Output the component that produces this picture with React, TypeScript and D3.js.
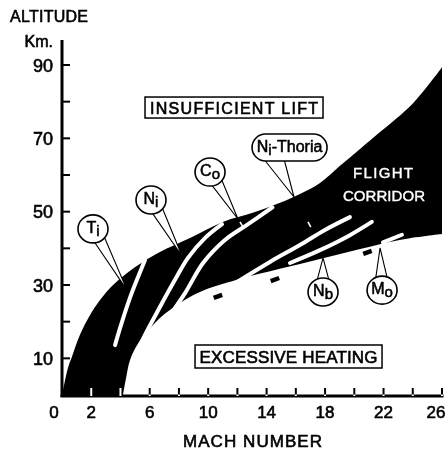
import * as d3 from 'd3';

const WIDTH = 448;
const HEIGHT = 451;
const FONT = "'Liberation Sans', Arial, Helvetica, sans-serif";

// axis ticks
const xTicks = [2, 4, 6, 8, 10, 12, 14, 16, 18, 20, 22, 24, 26];
const xTickLabels = [0, 2, 6, 10, 14, 18, 22, 26];
const yTicks = [10, 20, 30, 40, 50, 60, 70, 80, 90];
const yTickLabels = [10, 30, 50, 70, 90];

// corridor edges, [mach, altitude km]
const liftLimit: [number, number][] = [
  [0, 0], [0.14, 2.7], [0.41, 7.4], [0.68, 10.4], [1.23, 16.4], [1.92, 21.8],
  [2.6, 25.9], [3.49, 30], [4.45, 33.3], [5.54, 36.3], [6.7, 39], [8.76, 42.8],
  [11, 47.2], [13.2, 49.9], [14.92, 52.4], [16.28, 54.8], [17.65, 57.8],
  [19.02, 62.5], [20.39, 67.1], [21.76, 71.7], [24.02, 79.6], [26, 89.4],
];
const heatingLimit: [number, number][] = [
  [4.17, 0], [4.38, 4.6], [4.65, 9.5], [5.13, 13.6], [5.82, 17.2], [6.7, 21],
  [8.07, 25.1], [9.44, 28.1], [11.97, 31.4], [14.9, 34.4], [17.65, 37.1],
  [20.4, 39.8], [23.1, 42.3], [26, 43.9],
];

// material bands
const tiBand: [number, number][] = [[3.63, 13.6], [4.04, 19.1], [4.65, 26.5], [5.68, 36.8]];
const niBand: [number, number][] = [
  [4.79, 9.0], [5.68, 16.4], [6.7, 24.0], [7.73, 31.4], [8.62, 37.4], [9.78, 42.8], [10.95, 46.6],
];
const coBand: [number, number][] = [
  [7.25, 21], [8.42, 27.8], [9.65, 36], [11.15, 42.3], [12.66, 46.4], [14.4, 51.2],
];
const niThoriaBand: [number, number][] = [[11.84, 30.5], [14.23, 36.3], [16.28, 40.9], [17.99, 45], [19.7, 48.5]];
const nbBand: [number, number][] = [[15.6, 36], [17.65, 39.5], [19.7, 43.6], [21.2, 47.2]];
const moBand: [number, number][] = [[21.96, 41.6], [23.26, 43.7]];
const bands = [tiBand, niBand, coBand, niThoriaBand, nbBand, moBand];

const edgeDashes: [number, number][] = [[10.67, 27.3], [14.57, 31.9], [20.9, 39.3]];

// callouts
const calloutNames = ['T', 'N', 'C', 'N', 'N', 'M'];
const calloutSubs = ['i', 'i', 'o', 'i', 'b', 'o'];
const calloutRest = ['', '', '', '-Thoria', '', ''];
const calloutAt: [number, number][] = [[2.12, 45.3], [6.09, 53.2], [10.13, 60.8], [15.57, 67.5], [17.86, 28.1], [21.9, 28.6]];
const calloutTip: [number, number][] = [[4.45, 28.6], [8.21, 37.9], [12.04, 48.0], [15.87, 54.0], [17.86, 37.4], [21.76, 40.1]];
const calloutMark: ([number, number] | null)[] = [null, null, [12.18, 47.2], [16.83, 47.2], null, null];

const x = d3.scaleLinear().domain([0, 26]).range([62, 442]);
const y = d3.scaleLinear().domain([0, 90]).range([395, 65]);

const curve = d3
  .line<[number, number]>()
  .x((d) => x(d[0]))
  .y((d) => y(d[1]))
  .curve(d3.curveCatmullRom);

function corridorPath() {
  const top = curve(liftLimit) ?? '';
  const bottom = (curve([...heatingLimit].reverse()) ?? '').replace(/^M/, 'L');
  return `${top}${bottom}Z`;
}

function Callout({ i }: { i: number }) {
  const cx = x(calloutAt[i][0]);
  const cy = y(calloutAt[i][1]);
  const tx = x(calloutTip[i][0]);
  const ty = y(calloutTip[i][1]);
  const pill = calloutRest[i] !== '';
  const rx = pill ? 37.5 : 15;
  const ry = pill ? 13.5 : 14;
  let p1: [number, number];
  let p2: [number, number];
  if (pill) {
    p1 = [cx - 25, cy + ry - 1];
    p2 = [cx - 5, cy + ry];
  } else {
    const a = Math.atan2(ty - cy, tx - cx);
    p1 = [cx + rx * Math.cos(a - 0.38), cy + ry * Math.sin(a - 0.38)];
    p2 = [cx + rx * Math.cos(a + 0.38), cy + ry * Math.sin(a + 0.38)];
  }
  const mark = calloutMark[i];
  let markLine = null;
  if (mark) {
    const mx = x(mark[0]);
    const my = y(mark[1]);
    const dx = tx - (p1[0] + p2[0]) / 2;
    const dy = ty - (p1[1] + p2[1]) / 2;
    const len = Math.hypot(dx, dy);
    markLine = (
      <line x1={mx} y1={my} x2={mx + (dx / len) * 6} y2={my + (dy / len) * 6} stroke="#fff" strokeWidth={1.6} />
    );
  }
  return (
    <g>
      <path d={`M${p1[0]},${p1[1]}L${tx},${ty}L${p2[0]},${p2[1]}`} fill="#fff" stroke="#000" strokeWidth={1.1} />
      {pill ? (
        <rect x={cx - rx} y={cy - ry} width={rx * 2} height={ry * 2} rx={ry} fill="#fff" stroke="#000" strokeWidth={1.6} />
      ) : (
        <ellipse cx={cx} cy={cy} rx={rx} ry={ry} fill="#fff" stroke="#000" strokeWidth={1.6} />
      )}
      <text x={cx} y={cy + 4} textAnchor="middle" fontSize={16} fontFamily={FONT} stroke="#000" strokeWidth={0.55}>
        <tspan>{calloutNames[i]}</tspan>
        <tspan dy={3} fontSize={15}>{calloutSubs[i]}</tspan>
        {pill ? <tspan dy={-3}>{calloutRest[i]}</tspan> : null}
      </text>
      {markLine}
    </g>
  );
}

export default function App() {
  const heavy = { stroke: '#000', strokeWidth: 0.6 };
  const lift = [x(11.77), y(78.4)];
  const heat = [x(15.5), y(10.5)];
  const corridor = [x(22.03), y(57.5)];
  return (
    <svg width={WIDTH} height={HEIGHT} style={{ position: 'absolute', left: 0, top: 0 }} fontFamily={FONT}>
      <rect width={WIDTH} height={HEIGHT} fill="#fff" />

      <path d={corridorPath()} fill="#000" />

      {bands.map((b, i) => (
        <path key={i} d={curve(b) ?? ''} fill="none" stroke="#fff" strokeWidth={4} strokeLinecap="round" />
      ))}

      {edgeDashes.map((d, i) => (
        <rect
          key={i}
          x={-4.5}
          y={-2.2}
          width={9}
          height={4.4}
          fill="#000"
          transform={`translate(${x(d[0])},${y(d[1]) + 1.5}) rotate(-20)`}
        />
      ))}

      {/* axes */}
      <line x1={62} y1={40} x2={62} y2={397} stroke="#000" strokeWidth={3} />
      <line x1={60.5} y1={396} x2={443.5} y2={396} stroke="#000" strokeWidth={3} />
      {yTicks.map((t) => (
        <line key={t} x1={62} x2={70} y1={y(t)} y2={y(t)} stroke="#000" strokeWidth={2} />
      ))}
      {yTickLabels.map((t) => (
        <text key={t} x={53} y={y(t) + 6.5} textAnchor="end" fontSize={18} {...heavy}>
          {t}
        </text>
      ))}
      {xTicks.map((t) => (
        <line
          key={t}
          x1={x(t)}
          x2={x(t)}
          y1={396}
          y2={388}
          stroke="#fff"
          strokeWidth={2}
          style={{ mixBlendMode: 'difference' }}
        />
      ))}
      {xTickLabels.map((t) => (
        <text
          key={t}
          x={x(t) - (t === 0 ? 8 : t === 26 ? 6 : 0)}
          y={418}
          textAnchor="middle"
          fontSize={17}
          {...heavy}
        >
          {t}
        </text>
      ))}

      <text x={10} y={22} fontSize={16} textLength={78} {...heavy}>ALTITUDE</text>
      <text x={53} y={47} fontSize={16} textAnchor="end" {...heavy}>Km.</text>
      <text x={252.5} y={447} fontSize={17} textAnchor="middle" textLength={139} {...heavy}>MACH NUMBER</text>

      {/* region labels */}
      <rect x={lift[0] - 89} y={lift[1] - 10.5} width={178} height={21} fill="#fff" stroke="#000" strokeWidth={1.5} />
      <text x={lift[0]} y={lift[1] + 6} fontSize={16} textAnchor="middle" textLength={168} {...heavy}>
        INSUFFICIENT LIFT
      </text>
      <rect x={heat[0] - 93.5} y={heat[1] - 11.5} width={187} height={23} fill="#fff" stroke="#000" strokeWidth={1.5} />
      <text x={heat[0]} y={heat[1] + 6.5} fontSize={17} textAnchor="middle" textLength={178} {...heavy}>
        EXCESSIVE HEATING
      </text>
      <text
        x={corridor[0] - 1}
        y={corridor[1] - 6}
        fontSize={15}
        textAnchor="middle"
        textLength={60}
        fill="#fff"
        stroke="#fff"
        strokeWidth={0.4}
      >
        FLIGHT
      </text>
      <text
        x={corridor[0]}
        y={corridor[1] + 17}
        fontSize={15}
        textAnchor="middle"
        textLength={82}
        fill="#fff"
        stroke="#fff"
        strokeWidth={0.4}
      >
        CORRIDOR
      </text>

      {calloutNames.map((_, i) => (
        <Callout key={i} i={i} />
      ))}
    </svg>
  );
}
